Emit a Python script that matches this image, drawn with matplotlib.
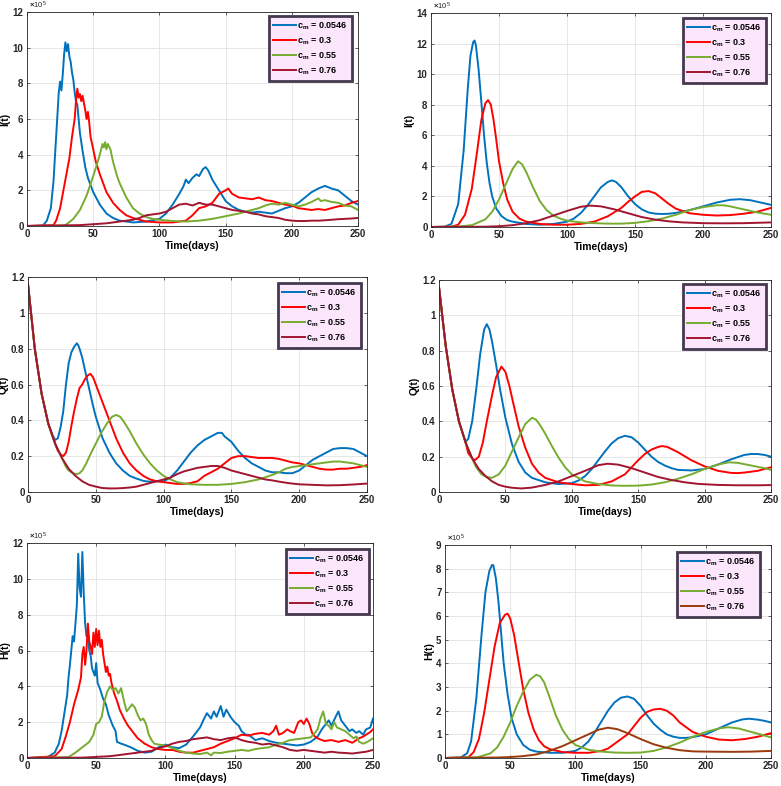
import numpy as np
import matplotlib
matplotlib.use("Agg")
import matplotlib.pyplot as plt

plt.rcParams["font.family"] = ["Liberation Sans", "DejaVu Sans"]
plt.rcParams["font.weight"] = "bold"
plt.rcParams["mathtext.fontset"] = "custom"
plt.rcParams["mathtext.rm"] = "Liberation Sans"
plt.rcParams["mathtext.bf"] = "Liberation Sans:bold"

# ---- data: (day, value) pairs ----
cm_labels = ["0.0546", "0.3", "0.55", "0.76"]

# I(t), stochastic, x1e5
I_sto_0546 = [(0, 0), (12, 0.02), (15, 0.3), (18, 1.0), (20, 2.5), (22, 5.0), (24, 7.5), (25, 8.1), (26, 7.6),
              (27, 8.5), (28, 9.6), (29, 10.3), (30, 9.8), (31, 10.2), (32, 9.5), (33, 9.2), (34, 8.6), (35, 8.2),
              (36, 7.5), (37, 7.0), (38, 6.8), (39, 6.0), (40, 5.2), (42, 4.2), (44, 3.3), (46, 2.7), (48, 2.3),
              (50, 1.9), (55, 1.2), (60, 0.7), (65, 0.45), (70, 0.3), (80, 0.2), (90, 0.25), (100, 0.4), (105, 0.7),
              (110, 1.2), (115, 1.8), (118, 2.2), (120, 2.6), (122, 2.4), (125, 2.7), (128, 2.9), (130, 2.8),
              (133, 3.2), (135, 3.3), (137, 3.1), (140, 2.6), (145, 2.0), (150, 1.4), (155, 1.1), (160, 0.9),
              (165, 0.8), (170, 0.75), (175, 0.8), (180, 0.75), (185, 0.7), (190, 0.85), (195, 1.0), (200, 1.1),
              (205, 1.3), (210, 1.6), (215, 1.9), (220, 2.1), (225, 2.25), (230, 2.1), (235, 2.0), (240, 1.7),
              (245, 1.4), (250, 1.2)]
I_sto_03 = [(0, 0), (20, 0.05), (22, 0.3), (25, 1.0), (28, 2.2), (30, 3.0), (32, 3.8), (34, 5.0), (36, 6.0),
            (37, 7.0), (38, 7.7), (39, 7.2), (40, 7.4), (41, 7.0), (42, 7.3), (44, 6.5), (45, 6.0), (46, 6.4),
            (47, 5.8), (48, 5.0), (50, 4.3), (52, 3.6), (55, 2.9), (58, 2.3), (60, 1.9), (65, 1.3), (70, 0.9),
            (75, 0.6), (80, 0.45), (85, 0.35), (90, 0.25), (100, 0.2), (110, 0.2), (120, 0.3), (125, 0.6),
            (130, 1.0), (135, 1.1), (140, 1.3), (145, 1.8), (150, 2.0), (152, 2.1), (155, 1.8), (160, 1.6),
            (165, 1.55), (170, 1.5), (175, 1.6), (180, 1.45), (185, 1.4), (190, 1.3), (195, 1.2), (200, 1.15),
            (205, 1.0), (210, 0.95), (215, 0.9), (220, 0.95), (225, 0.9), (230, 1.0), (235, 1.1), (240, 1.15),
            (245, 1.3), (250, 1.4)]
I_sto_055 = [(0, 0), (28, 0.03), (30, 0.1), (35, 0.4), (40, 0.9), (45, 1.7), (50, 2.8), (53, 3.5), (55, 4.0),
             (57, 4.6), (58, 4.4), (59, 4.7), (60, 4.3), (61, 4.6), (63, 4.3), (65, 3.6), (68, 2.8), (70, 2.4),
             (75, 1.6), (80, 1.0), (85, 0.7), (90, 0.5), (95, 0.4), (100, 0.35), (110, 0.28), (120, 0.25),
             (130, 0.3), (140, 0.4), (150, 0.55), (160, 0.7), (170, 0.9), (175, 1.0), (180, 1.15), (185, 1.25),
             (190, 1.2), (195, 1.3), (200, 1.2), (205, 1.1), (210, 1.2), (215, 1.35), (220, 1.55), (222, 1.4),
             (225, 1.45), (230, 1.35), (235, 1.3), (240, 1.15), (245, 1.1), (250, 0.9)]
I_sto_076 = [(0, 0), (40, 0.05), (60, 0.15), (70, 0.25), (80, 0.35), (85, 0.45), (90, 0.6), (95, 0.65),
             (100, 0.7), (105, 0.8), (110, 1.0), (115, 1.2), (120, 1.25), (125, 1.15), (130, 1.3), (135, 1.2),
             (140, 1.2), (145, 1.1), (150, 1.0), (155, 0.9), (160, 0.85), (165, 0.8), (170, 0.7), (175, 0.65),
             (180, 0.55), (185, 0.5), (190, 0.45), (195, 0.35), (200, 0.3), (205, 0.28), (210, 0.28), (215, 0.3),
             (220, 0.3), (225, 0.32), (230, 0.35), (235, 0.38), (240, 0.4), (245, 0.42), (250, 0.45)]

# I(t), deterministic, x1e5
I_det_0546 = [(0, 0), (10, 0.02), (15, 0.2), (20, 1.5), (24, 5.0), (27, 9.0), (29, 11.2), (31, 12.1), (32, 12.2),
              (33, 11.9), (35, 10.3), (37, 8.2), (39, 6.0), (41, 4.2), (43, 2.9), (45, 2.0), (48, 1.2), (52, 0.7),
              (56, 0.45), (60, 0.35), (70, 0.2), (80, 0.15), (90, 0.2), (100, 0.35), (105, 0.55), (110, 0.9),
              (115, 1.4), (120, 2.0), (125, 2.6), (130, 2.95), (133, 3.05), (136, 2.95), (140, 2.6), (145, 2.0),
              (150, 1.5), (155, 1.15), (160, 0.95), (165, 0.87), (170, 0.85), (175, 0.87), (180, 0.92), (190, 1.1),
              (200, 1.35), (210, 1.6), (220, 1.78), (227, 1.82), (235, 1.75), (245, 1.55), (250, 1.45)]
I_det_03 = [(0, 0), (15, 0.02), (20, 0.15), (25, 0.8), (30, 2.5), (34, 5.0), (37, 7.0), (40, 8.1), (42, 8.3),
            (44, 8.0), (46, 7.0), (48, 5.7), (50, 4.3), (53, 2.9), (56, 1.8), (60, 1.0), (65, 0.55), (70, 0.35),
            (80, 0.2), (90, 0.15), (100, 0.15), (110, 0.2), (120, 0.35), (130, 0.7), (140, 1.25), (145, 1.65),
            (150, 2.0), (155, 2.3), (160, 2.35), (165, 2.2), (170, 1.85), (175, 1.5), (180, 1.2), (190, 0.9),
            (200, 0.8), (210, 0.75), (220, 0.78), (230, 0.87), (240, 1.0), (250, 1.25)]
I_det_055 = [(0, 0), (20, 0.03), (30, 0.12), (40, 0.5), (45, 1.0), (50, 1.8), (55, 2.8), (60, 3.8), (64, 4.3),
             (67, 4.1), (70, 3.6), (75, 2.6), (80, 1.7), (85, 1.1), (90, 0.75), (95, 0.55), (100, 0.42),
             (110, 0.3), (120, 0.25), (130, 0.22), (140, 0.22), (150, 0.27), (160, 0.38), (170, 0.55), (180, 0.8),
             (190, 1.1), (200, 1.3), (210, 1.42), (215, 1.42), (220, 1.35), (230, 1.15), (240, 0.95), (250, 0.8)]
I_det_076 = [(0, 0), (40, 0.02), (50, 0.05), (60, 0.12), (70, 0.25), (80, 0.45), (90, 0.75), (100, 1.05),
             (110, 1.32), (117, 1.4), (125, 1.35), (135, 1.15), (145, 0.9), (155, 0.65), (165, 0.48), (175, 0.37),
             (185, 0.3), (200, 0.25), (215, 0.24), (230, 0.25), (250, 0.3)]

# Q(t), stochastic
Q_sto_0546 = [(0, 1.16), (5, 0.8), (10, 0.55), (15, 0.38), (18, 0.32), (20, 0.29), (22, 0.3), (24, 0.36),
              (26, 0.45), (28, 0.6), (30, 0.72), (32, 0.78), (34, 0.81), (36, 0.83), (37, 0.82), (38, 0.8),
              (40, 0.75), (42, 0.68), (45, 0.58), (48, 0.48), (50, 0.42), (55, 0.3), (60, 0.22), (65, 0.16),
              (70, 0.12), (75, 0.09), (80, 0.075), (85, 0.062), (90, 0.057), (95, 0.06), (100, 0.06), (105, 0.08),
              (110, 0.12), (115, 0.17), (120, 0.22), (125, 0.26), (130, 0.29), (135, 0.31), (140, 0.33),
              (143, 0.33), (145, 0.31), (150, 0.28), (155, 0.23), (160, 0.19), (165, 0.16), (170, 0.14),
              (175, 0.12), (180, 0.11), (185, 0.11), (190, 0.105), (195, 0.105), (200, 0.12), (205, 0.15),
              (210, 0.18), (215, 0.2), (220, 0.22), (225, 0.24), (230, 0.245), (235, 0.245), (240, 0.24),
              (245, 0.22), (250, 0.2)]
Q_sto_03 = [(0, 1.16), (5, 0.8), (10, 0.55), (15, 0.38), (20, 0.27), (22, 0.23), (24, 0.21), (26, 0.2),
            (28, 0.22), (30, 0.28), (32, 0.37), (34, 0.45), (36, 0.52), (38, 0.58), (40, 0.6), (42, 0.63),
            (44, 0.65), (46, 0.66), (48, 0.64), (50, 0.6), (55, 0.5), (60, 0.4), (65, 0.3), (70, 0.22), (75, 0.16),
            (80, 0.12), (85, 0.09), (90, 0.07), (95, 0.06), (100, 0.055), (105, 0.05), (110, 0.045), (115, 0.045),
            (120, 0.05), (125, 0.06), (130, 0.09), (135, 0.11), (140, 0.13), (145, 0.16), (150, 0.19), (155, 0.2),
            (160, 0.2), (165, 0.195), (170, 0.19), (175, 0.19), (180, 0.19), (185, 0.185), (190, 0.175),
            (195, 0.165), (200, 0.16), (205, 0.15), (210, 0.14), (215, 0.13), (220, 0.125), (225, 0.125),
            (230, 0.13), (235, 0.13), (240, 0.135), (245, 0.14), (250, 0.15)]
Q_sto_055 = [(0, 1.16), (5, 0.8), (10, 0.55), (15, 0.38), (20, 0.27), (25, 0.19), (28, 0.14), (30, 0.12),
             (33, 0.105), (36, 0.1), (38, 0.105), (40, 0.12), (43, 0.16), (46, 0.21), (50, 0.27), (54, 0.33),
             (58, 0.38), (62, 0.42), (65, 0.43), (68, 0.42), (70, 0.4), (75, 0.34), (80, 0.27), (85, 0.21),
             (90, 0.16), (95, 0.12), (100, 0.09), (105, 0.07), (110, 0.055), (115, 0.048), (120, 0.043),
             (130, 0.04), (140, 0.04), (150, 0.045), (160, 0.055), (170, 0.07), (180, 0.095), (185, 0.11),
             (190, 0.13), (195, 0.14), (200, 0.145), (205, 0.15), (210, 0.155), (215, 0.16), (220, 0.165),
             (225, 0.17), (230, 0.17), (235, 0.165), (240, 0.16), (245, 0.15), (250, 0.14)]
Q_sto_076 = [(0, 1.16), (5, 0.8), (10, 0.55), (15, 0.38), (20, 0.27), (25, 0.19), (30, 0.13), (35, 0.09),
             (40, 0.06), (45, 0.04), (50, 0.03), (55, 0.022), (60, 0.02), (65, 0.02), (70, 0.022), (75, 0.025),
             (80, 0.03), (85, 0.04), (90, 0.05), (95, 0.06), (100, 0.07), (105, 0.08), (110, 0.1), (115, 0.115),
             (120, 0.125), (125, 0.135), (130, 0.14), (135, 0.145), (140, 0.145), (145, 0.135), (150, 0.12),
             (155, 0.11), (160, 0.1), (165, 0.09), (170, 0.08), (175, 0.07), (180, 0.065), (185, 0.058),
             (190, 0.052), (195, 0.047), (200, 0.043), (210, 0.04), (220, 0.037), (230, 0.038), (240, 0.042),
             (250, 0.047)]

# Q(t), deterministic
Q_det_0546 = [(0, 1.16), (5, 0.83), (10, 0.58), (15, 0.4), (20, 0.285), (22, 0.3), (25, 0.4), (28, 0.58),
              (31, 0.78), (34, 0.92), (36, 0.95), (38, 0.92), (40, 0.85), (43, 0.72), (46, 0.58), (50, 0.42),
              (55, 0.27), (60, 0.17), (65, 0.11), (70, 0.08), (80, 0.055), (90, 0.045), (100, 0.05), (105, 0.065),
              (110, 0.09), (115, 0.13), (120, 0.18), (125, 0.23), (130, 0.275), (135, 0.305), (140, 0.318),
              (145, 0.31), (150, 0.28), (155, 0.24), (160, 0.2), (165, 0.17), (170, 0.15), (175, 0.135),
              (180, 0.125), (190, 0.122), (200, 0.13), (210, 0.155), (220, 0.185), (230, 0.21), (235, 0.215),
              (240, 0.215), (245, 0.21), (250, 0.2)]
Q_det_03 = [(0, 1.16), (5, 0.83), (10, 0.58), (15, 0.4), (20, 0.28), (22, 0.22), (25, 0.19), (27, 0.18),
            (30, 0.2), (33, 0.28), (36, 0.4), (40, 0.55), (43, 0.65), (47, 0.71), (50, 0.68), (53, 0.6), (56, 0.5),
            (60, 0.37), (65, 0.25), (70, 0.16), (75, 0.11), (80, 0.08), (90, 0.055), (100, 0.045), (110, 0.038),
            (120, 0.04), (130, 0.06), (140, 0.1), (145, 0.14), (150, 0.18), (155, 0.215), (160, 0.24),
            (165, 0.255), (168, 0.26), (172, 0.255), (180, 0.225), (190, 0.18), (200, 0.145), (210, 0.12),
            (220, 0.108), (225, 0.107), (230, 0.11), (240, 0.12), (250, 0.14)]
Q_det_055 = [(0, 1.16), (5, 0.83), (10, 0.58), (15, 0.4), (20, 0.28), (25, 0.19), (28, 0.14), (32, 0.1),
             (36, 0.085), (40, 0.08), (45, 0.1), (50, 0.15), (55, 0.23), (60, 0.31), (65, 0.385), (70, 0.42),
             (73, 0.41), (76, 0.38), (80, 0.33), (85, 0.26), (90, 0.195), (95, 0.14), (100, 0.1), (110, 0.06),
             (120, 0.045), (130, 0.037), (140, 0.035), (150, 0.036), (160, 0.042), (170, 0.055), (180, 0.075),
             (190, 0.1), (200, 0.13), (210, 0.155), (218, 0.168), (225, 0.165), (235, 0.15), (245, 0.135),
             (250, 0.125)]
Q_det_076 = [(0, 1.16), (5, 0.83), (10, 0.58), (15, 0.4), (20, 0.28), (25, 0.19), (30, 0.13), (35, 0.09),
             (40, 0.06), (45, 0.04), (50, 0.03), (55, 0.024), (62, 0.02), (70, 0.025), (80, 0.04), (90, 0.06),
             (100, 0.09), (110, 0.12), (120, 0.152), (127, 0.16), (135, 0.155), (145, 0.135), (155, 0.11),
             (165, 0.085), (175, 0.068), (185, 0.055), (195, 0.046), (210, 0.04), (225, 0.038), (240, 0.038),
             (250, 0.039)]

# H(t), stochastic, x1e5
H_sto_0546 = [(0, 0), (15, 0.05), (20, 0.3), (23, 0.8), (25, 1.5), (27, 2.5), (29, 3.5), (30, 4.5), (31, 5.2),
              (32, 6.0), (33, 6.8), (34, 6.5), (35, 7.5), (36, 8.5), (37, 11.4), (38, 9.5), (39, 9.0), (40, 11.5),
              (41, 9.2), (42, 7.5), (43, 6.8), (44, 7.0), (45, 6.0), (46, 5.7), (47, 5.0), (48, 4.8), (49, 4.6),
              (50, 5.3), (51, 4.2), (53, 3.8), (55, 3.3), (57, 3.0), (59, 2.4), (60, 2.2), (62, 1.8), (64, 1.5),
              (65, 0.9), (68, 0.8), (70, 0.75), (75, 0.6), (80, 0.4), (85, 0.3), (90, 0.35), (95, 0.6),
              (100, 0.75), (105, 0.6), (110, 0.55), (115, 0.75), (120, 1.2), (125, 1.7), (128, 2.2), (130, 2.5),
              (133, 2.2), (135, 2.6), (137, 2.3), (140, 2.9), (142, 2.3), (144, 2.7), (147, 2.3), (150, 2.0),
              (153, 1.8), (155, 1.5), (158, 1.3), (160, 1.3), (165, 1.0), (170, 1.1), (175, 0.95), (180, 0.85),
              (185, 0.8), (190, 0.75), (195, 0.7), (200, 0.75), (205, 0.9), (210, 1.2), (213, 1.6), (216, 1.9),
              (218, 2.1), (220, 1.8), (223, 2.3), (225, 2.6), (227, 2.1), (230, 1.8), (233, 1.5), (235, 1.6),
              (238, 1.4), (240, 1.5), (243, 1.3), (245, 1.6), (248, 1.7), (250, 2.2)]
H_sto_03 = [(0, 0), (20, 0.1), (25, 0.5), (28, 1.2), (31, 2.0), (34, 3.0), (37, 3.8), (39, 4.5), (40, 5.8),
            (41, 6.2), (42, 5.2), (43, 6.0), (44, 7.5), (45, 6.5), (46, 6.2), (47, 5.8), (48, 7.0), (49, 6.2),
            (50, 7.2), (51, 6.3), (52, 7.1), (53, 6.2), (54, 6.6), (55, 5.8), (56, 5.3), (57, 4.8), (58, 5.1),
            (59, 4.6), (60, 4.7), (61, 4.2), (63, 3.6), (65, 3.2), (67, 2.7), (70, 2.2), (73, 1.8), (75, 1.6),
            (78, 1.3), (80, 1.1), (85, 0.8), (90, 0.6), (95, 0.5), (100, 0.45), (105, 0.45), (110, 0.35),
            (115, 0.3), (120, 0.3), (125, 0.4), (130, 0.5), (135, 0.6), (140, 0.8), (145, 0.95), (150, 1.1),
            (155, 1.3), (160, 1.25), (165, 1.35), (170, 1.4), (175, 1.3), (178, 1.5), (180, 1.8), (182, 1.3),
            (185, 1.4), (188, 1.6), (190, 1.5), (193, 1.4), (196, 2.0), (198, 2.1), (200, 1.9), (202, 2.2),
            (204, 1.9), (206, 1.4), (208, 1.2), (210, 1.1), (213, 1.0), (215, 0.95), (220, 1.0), (225, 0.9),
            (230, 1.0), (235, 0.85), (240, 1.1), (243, 1.2), (245, 1.3), (248, 1.45), (250, 1.6)]
H_sto_055 = [(0, 0), (30, 0.05), (35, 0.3), (40, 0.6), (45, 0.9), (48, 1.3), (50, 1.9), (52, 2.0), (54, 2.3),
             (56, 3.2), (58, 3.7), (60, 4.0), (62, 3.8), (64, 3.9), (66, 3.6), (68, 3.9), (70, 3.2), (72, 2.6),
             (74, 2.8), (76, 3.0), (78, 2.8), (80, 2.4), (82, 2.1), (84, 2.2), (86, 1.9), (88, 1.3), (90, 1.0),
             (92, 0.8), (95, 0.75), (100, 0.7), (105, 0.55), (110, 0.4), (115, 0.3), (120, 0.25), (125, 0.22),
             (130, 0.3), (133, 0.15), (135, 0.3), (140, 0.28), (145, 0.35), (150, 0.4), (155, 0.45), (160, 0.4),
             (165, 0.5), (170, 0.55), (175, 0.6), (180, 0.75), (185, 0.85), (190, 1.0), (195, 1.05), (200, 1.1),
             (205, 1.15), (208, 1.4), (210, 1.6), (212, 2.2), (214, 2.6), (216, 1.9), (218, 1.8), (220, 1.6),
             (222, 2.0), (224, 1.7), (227, 1.6), (230, 1.5), (233, 1.3), (236, 1.1), (238, 1.2), (240, 0.9),
             (243, 0.8), (246, 0.9), (248, 1.0), (250, 1.1)]
H_sto_076 = [(0, 0), (40, 0.02), (60, 0.1), (70, 0.2), (80, 0.3), (90, 0.4), (95, 0.55), (100, 0.65), (105, 0.8),
             (110, 0.9), (115, 0.95), (120, 1.05), (125, 1.1), (130, 1.15), (135, 1.05), (140, 1.0), (145, 1.1),
             (150, 1.15), (155, 1.0), (160, 0.9), (165, 0.85), (170, 0.75), (175, 0.8), (180, 0.7), (185, 0.6),
             (190, 0.45), (195, 0.4), (200, 0.45), (205, 0.4), (210, 0.35), (215, 0.3), (220, 0.35), (225, 0.3),
             (230, 0.28), (235, 0.25), (240, 0.3), (245, 0.35), (250, 0.45)]

# H(t), deterministic, x1e5
H_det_0546 = [(0, 0), (12, 0.02), (17, 0.2), (20, 0.7), (24, 2.5), (28, 5.2), (31, 7.0), (34, 7.9), (36, 8.15),
              (37, 8.15), (39, 7.6), (41, 6.6), (43, 5.3), (45, 4.0), (48, 2.7), (51, 1.7), (55, 1.0), (60, 0.55),
              (65, 0.35), (70, 0.27), (80, 0.22), (90, 0.22), (100, 0.3), (105, 0.45), (110, 0.7), (115, 1.1),
              (120, 1.55), (125, 2.0), (130, 2.35), (135, 2.55), (140, 2.6), (145, 2.5), (150, 2.2), (155, 1.8),
              (160, 1.45), (165, 1.2), (170, 1.0), (175, 0.9), (180, 0.85), (185, 0.85), (190, 0.88), (200, 1.0),
              (210, 1.25), (220, 1.5), (228, 1.63), (233, 1.66), (240, 1.62), (245, 1.57), (250, 1.5)]
H_det_03 = [(0, 0), (18, 0.03), (22, 0.25), (26, 0.8), (30, 1.9), (34, 3.3), (38, 4.7), (42, 5.7), (46, 6.05),
            (48, 6.1), (50, 5.9), (53, 5.2), (56, 4.2), (60, 2.9), (64, 1.9), (68, 1.2), (72, 0.75), (76, 0.5),
            (80, 0.38), (90, 0.25), (100, 0.22), (110, 0.22), (120, 0.3), (125, 0.4), (130, 0.6), (140, 1.0),
            (145, 1.35), (150, 1.7), (155, 1.95), (160, 2.05), (165, 2.08), (170, 2.0), (175, 1.8), (180, 1.5),
            (190, 1.1), (200, 0.9), (210, 0.78), (220, 0.75), (230, 0.8), (240, 0.9), (250, 1.05)]
H_det_055 = [(0, 0), (25, 0.03), (35, 0.2), (40, 0.45), (45, 0.9), (50, 1.5), (55, 2.2), (60, 2.8), (65, 3.3),
             (70, 3.52), (73, 3.45), (76, 3.2), (80, 2.6), (85, 1.8), (90, 1.2), (95, 0.8), (100, 0.55),
             (110, 0.35), (120, 0.27), (130, 0.23), (140, 0.22), (150, 0.23), (160, 0.3), (170, 0.45), (180, 0.65),
             (190, 0.9), (200, 1.1), (210, 1.25), (217, 1.3), (225, 1.25), (235, 1.1), (245, 0.95), (250, 0.87)]
H_det_076 = [(0, 0), (40, 0.02), (50, 0.04), (60, 0.08), (70, 0.15), (80, 0.3), (90, 0.5), (100, 0.75),
             (110, 1.0), (118, 1.2), (125, 1.28), (132, 1.22), (140, 1.05), (150, 0.8), (160, 0.58), (170, 0.43),
             (180, 0.33), (190, 0.28), (200, 0.27), (220, 0.26), (235, 0.27), (250, 0.3)]

colors = ["#0072BD", "#FF0000", "#77AC30", "#A2142F"]
colors_h_det = ["#0072BD", "#FF0000", "#77AC30", "#9B3A0A"]

W, H = 781, 786
# axes boxes in pixels: left, right, top, bottom
panels = [
    dict(box=(27, 358, 12, 226), series=[I_sto_0546, I_sto_03, I_sto_055, I_sto_076], ylabel="I(t)",
         ylim=12, ystep=2, sci=True, leg=(352, 16), cols=colors),
    dict(box=(431, 771, 13, 227), series=[I_det_0546, I_det_03, I_det_055, I_det_076], ylabel="I(t)",
         ylim=14, ystep=2, sci=True, leg=(766, 18), cols=colors),
    dict(box=(28, 367, 277, 492), series=[Q_sto_0546, Q_sto_03, Q_sto_055, Q_sto_076], ylabel="Q(t)",
         ylim=1.2, ystep=0.2, sci=False, leg=(361, 283), cols=colors),
    dict(box=(439, 771, 280, 492), series=[Q_det_0546, Q_det_03, Q_det_055, Q_det_076], ylabel="Q(t)",
         ylim=1.2, ystep=0.2, sci=False, leg=(766, 284), cols=colors),
    dict(box=(27, 373, 543, 758), series=[H_sto_0546, H_sto_03, H_sto_055, H_sto_076], ylabel="H(t)",
         ylim=12, ystep=2, sci=True, leg=(369, 549), cols=colors),
    dict(box=(445, 771, 545, 758), series=[H_det_0546, H_det_03, H_det_055, H_det_076], ylabel="H(t)",
         ylim=9, ystep=1, sci=True, leg=(760, 552), cols=colors_h_det),
]

fig = plt.figure(figsize=(W / 100, H / 100), dpi=100)

for p in panels:
    l, r, t, b = p["box"]
    ax = fig.add_axes([l / W, 1 - b / H, (r - l) / W, (b - t) / H])
    for s, c, lab in zip(p["series"], p["cols"], cm_labels):
        x, y = zip(*s)
        ax.plot(x, y, color=c, lw=1.4, label=r"$\mathbf{c_m}$ = " + lab)
    ax.set_xlim(0, 250)
    ax.set_ylim(0, p["ylim"])
    ax.set_xticks([0, 50, 100, 150, 200, 250])
    yt = np.round(np.arange(0, p["ylim"] + 1e-9, p["ystep"]), 2)
    ax.set_yticks(yt)
    ax.set_yticklabels([("%g" % v) for v in yt])
    ax.grid(True, color="#e3e3e3", lw=0.6)
    ax.set_axisbelow(True)
    ax.tick_params(direction="in", top=True, right=True, length=2.5, width=0.5, labelsize=7,
                   pad=2.5, colors="#262626")
    for sp in ax.spines.values():
        sp.set_linewidth(0.6)
        sp.set_color("#262626")
    ax.set_xlabel("Time(days)", fontsize=7.5, fontweight="bold", labelpad=1)
    ax.set_ylabel(p["ylabel"], fontsize=7.5, fontweight="bold", labelpad=1.5)
    if p["sci"]:
        ax.text(0.005, 1.003, r"$\times\mathregular{10^5}$", transform=ax.transAxes, fontsize=5.5,
                fontweight="normal", ha="left", va="bottom", color="#262626")
    lx, ly = p["leg"]
    leg = ax.legend(loc="upper right", bbox_to_anchor=(lx / W, 1 - ly / H), bbox_transform=fig.transFigure,
                    borderaxespad=0, prop=dict(weight="bold", size=6.5), handlelength=2.6,
                    handletextpad=0.15, labelspacing=0.4, borderpad=0.45, fancybox=False, framealpha=1)
    fr = leg.get_frame()
    fr.set_facecolor("#FCE6FC")
    fr.set_edgecolor("#45384F")
    fr.set_linewidth(2.0)

fig.savefig("out.png", dpi=100)
